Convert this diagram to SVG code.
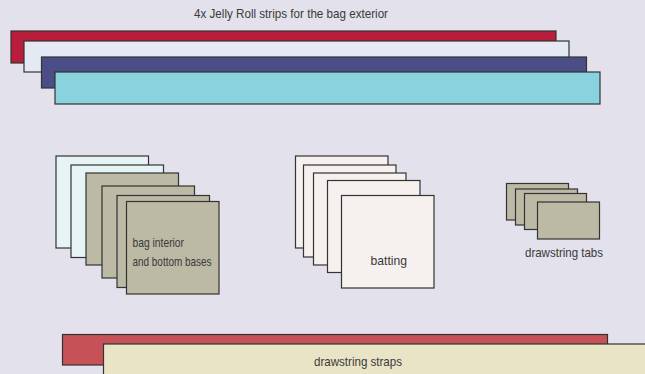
<svg xmlns="http://www.w3.org/2000/svg" width="645" height="374" viewBox="0 0 645 374">
<style>
.p{stroke:#333;stroke-width:1.2}
.t{font-family:"Liberation Sans",Arial,sans-serif;font-size:13px;fill:#3a3a3a}
.red{fill:#B81E3C}.lb{fill:#E4E9F3}.nv{fill:#4B4E86}.cy{fill:#88D3DE}
.lc{fill:#E6F4F5}.tp{fill:#BCB9A5}.bt{fill:#F6F0EE}
.rs{fill:#C65258}.cr{fill:#E9E4C6}
</style>
<rect width="645" height="374" fill="#E3E1EB"/>
<g id="strips">
<text class="t" x="194" y="18" textLength="194" lengthAdjust="spacingAndGlyphs">4x Jelly Roll strips for the bag exterior</text>
<rect class="p red" x="11" y="31" width="545" height="32"/>
<rect class="p lb" x="24" y="41" width="545" height="31"/>
<rect class="p nv" x="41.5" y="57" width="545" height="31"/>
<rect class="p cy" x="55" y="72" width="545" height="32"/>
</g>
<g id="bag-interior">
<rect class="p lc" x="56" y="156" width="92.5" height="92"/>
<rect class="p lc" x="71" y="165" width="92.5" height="92.5"/>
<rect class="p tp" x="86" y="173" width="92.5" height="92"/>
<rect class="p tp" x="102" y="186" width="92.5" height="92"/>
<rect class="p tp" x="117" y="195.5" width="92.5" height="92"/>
<rect class="p tp" x="126.5" y="201.5" width="92.5" height="92.5"/>
<text class="t" x="132.5" y="247" textLength="51.5" lengthAdjust="spacingAndGlyphs">bag interior</text>
<text class="t" x="132.5" y="266" textLength="79" lengthAdjust="spacingAndGlyphs">and bottom bases</text>
</g>
<g id="batting">
<rect class="p bt" x="295.5" y="156" width="92.5" height="92"/>
<rect class="p bt" x="303.5" y="165" width="92.5" height="92"/>
<rect class="p bt" x="313.5" y="173" width="92.5" height="92"/>
<rect class="p bt" x="327.5" y="180.5" width="92.5" height="92"/>
<rect class="p bt" x="341.5" y="195.5" width="92.5" height="92.5"/>
<text class="t" x="370.5" y="265" textLength="36.5" lengthAdjust="spacingAndGlyphs">batting</text>
</g>
<g id="tabs">
<rect class="p tp" x="506.5" y="183.5" width="62" height="36.5"/>
<rect class="p tp" x="515.5" y="189" width="62" height="36"/>
<rect class="p tp" x="524.5" y="193.5" width="62" height="36"/>
<rect class="p tp" x="537.5" y="202" width="62" height="37"/>
<text class="t" x="525" y="257" textLength="78" lengthAdjust="spacingAndGlyphs">drawstring tabs</text>
</g>
<g id="straps">
<rect class="p rs" x="62.5" y="334.5" width="545" height="30.5"/>
<rect class="p cr" x="103.5" y="344" width="560" height="40"/>
<text class="t" x="314" y="366" textLength="88" lengthAdjust="spacingAndGlyphs">drawstring straps</text>
</g>
<g id="connectors"/>
</svg>
